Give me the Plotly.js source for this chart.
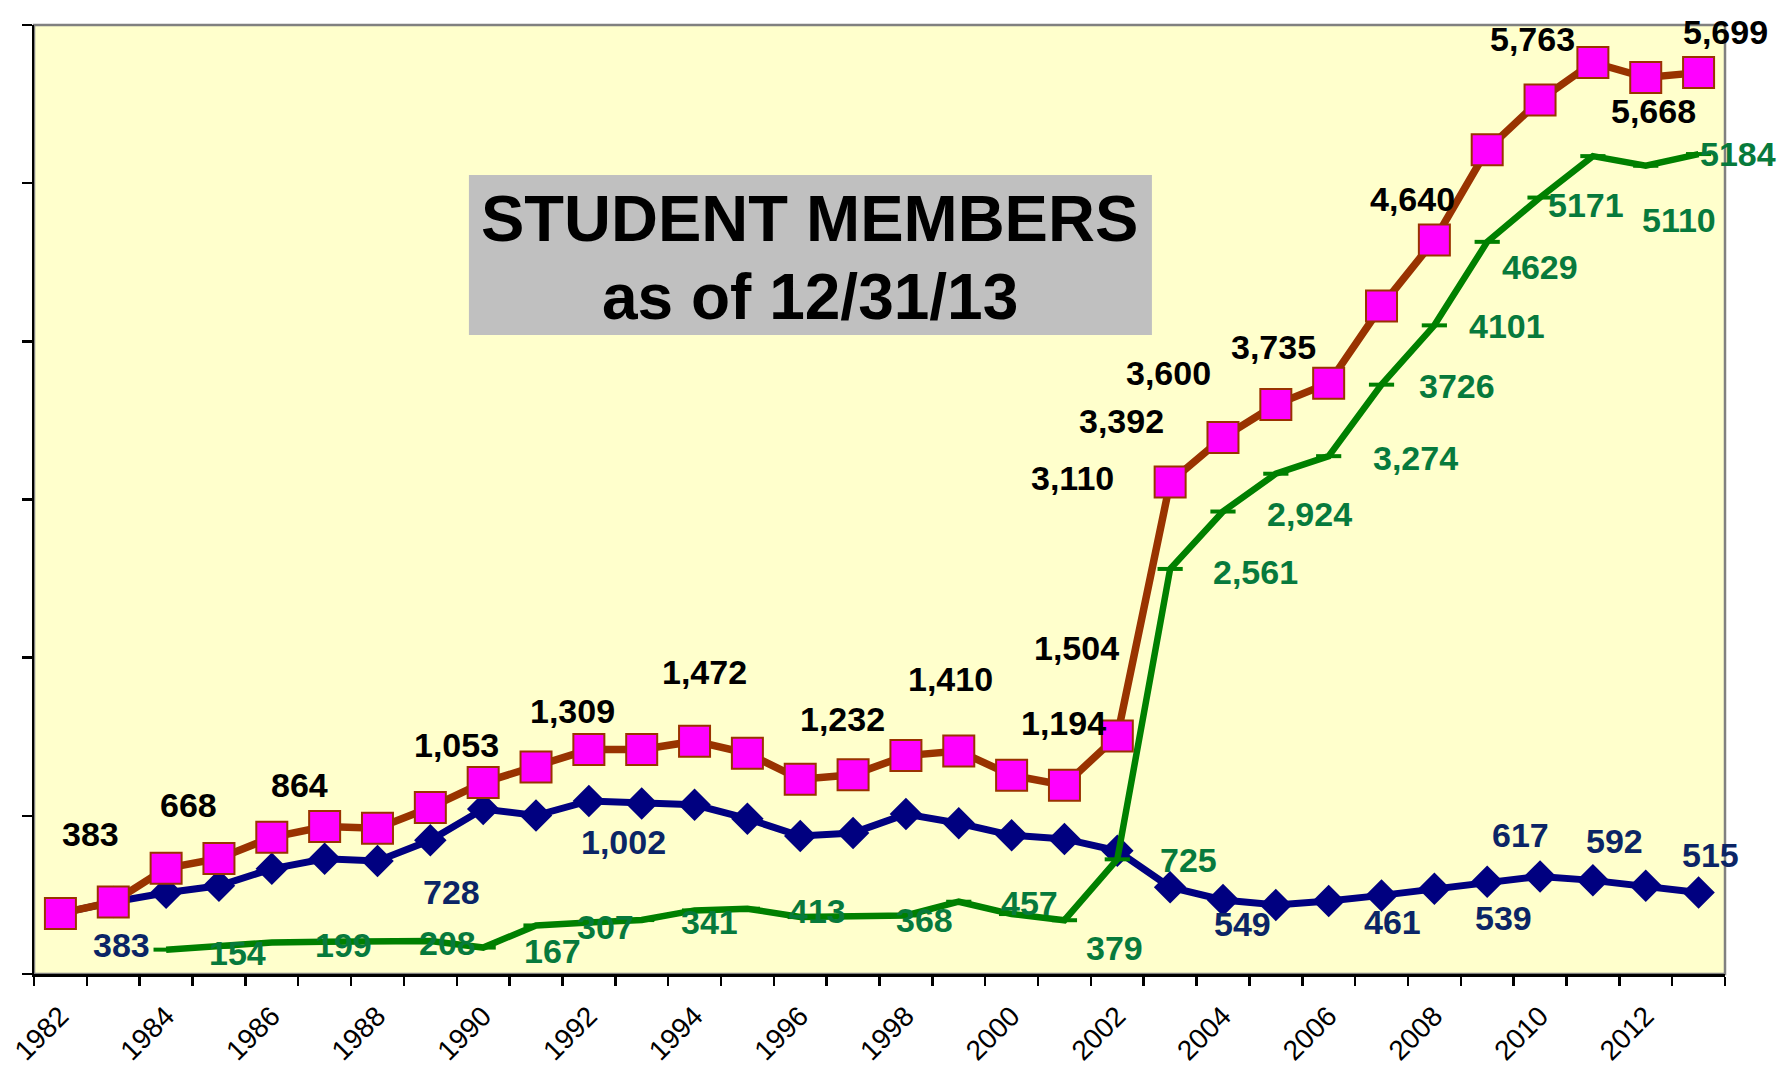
<!DOCTYPE html>
<html><head><meta charset="utf-8">
<script src="https://cdn.plot.ly/plotly-3.0.1.min.js"></script>
<style>html,body{margin:0;padding:0;background:#fff;}#chart{width:1777px;height:1066px;}</style>
</head><body><div id="chart"></div>
<script>
// ---- data ----
const years = [1982,1983,1984,1985,1986,1987,1988,1989,1990,1991,1992,1993,1994,1995,1996,1997,1998,1999,2000,2001,2002,2003,2004,2005,2006,2007,2008,2009,2010,2011,2012,2013];
const totalMembers = [383,455,668,731,864,932,921,1053,1210,1309,1419,1419,1472,1395,1232,1260,1381,1410,1256,1194,1504,3110,3392,3600,3735,4223,4640,5212,5526,5763,5668,5699];
const blueMembers  = [383,455,514,558,665,728,714,845,1043,1002,1094,1078,1070,982,872,892,1011,953,877,854,779,549,468,437,461,497,539,583,617,592,558,515];
const greenMembers = [null,null,154,173,199,204,207,208,167,307,325,341,402,413,360,368,370,457,379,340,725,2561,2924,3163,3274,3726,4101,4629,4909,5171,5110,5184];
const tickYears  = [1982,1984,1986,1988,1990,1992,1994,1996,1998,2000,2002,2004,2006,2008,2010,2012];
const tickLabels = ['1982','1984','1986','1988','1990','1992','1994','1996','1998','2000','2002','2004','2006','2008','2010','2012'];
const yTicks = [0,1000,2000,3000,4000,5000,6000];

const totalLabelYears = [1982,1984,1986,1989,1991,1994,1996,1999,2002,2001,2003,2004,2005,2006,2008,2011,2012,2013];
const totalLabelTexts = ['383','668','864','1,053','1,309','1,472','1,232','1,410','1,504','1,194','3,110','3,392','3,600','3,735','4,640','5,763','5,668','5,699'];
const blueLabelYears = [1982,1987,1991,2003,2006,2008,2010,2011,2013];
const blueLabelTexts = ['383','728','1,002','549','461','539','617','592','515'];
const greenLabelYears = [1984,1986,1989,1990,1991,1993,1995,1997,1999,2000,2002,2003,2004,2006,2007,2008,2009,2011,2012,2013];
const greenLabelTexts = ['154','199','208','167','307','341','413','368','457','379','725','2,561','2,924','3,274','3726','4101','4629','5171','5110','5184'];
const titleLines = ['STUDENT MEMBERS','as of 12/31/13'];

// ---- label placement offsets (pixels: right, down) ----
const totalLabelOffsets = [[30,-79],[22.5,-63],[27.5,-52],[26,-62],[36,-56],[9.5,-69],[42,-60],[-8,-71.5],[-41,-88.6],[-1,-62.6],[-98,-4.6],[-101.5,-17],[-107.5,-32],[-55.5,-36.7],[-21.5,-41],[-60.5,-23],[8,33],[26.5,-41]];
const blueLabelOffsets = [[61,32],[126.5,33.6],[87,26],[72.5,37],[64,21],[69,29],[-20,-41],[22,-39],[12,-37.5]];
const greenLabelOffsets = [[71.5,3],[71.5,2],[17.5,1.4],[69,3],[69.5,2],[68,2.4],[70,2],[71,4],[70.5,1],[103,33.5],[71.5,1],[85,2.6],[86.5,2],[87,2],[75,1],[72.5,1],[53,25],[-7,49],[33,54],[39,0]];

const FONT = 'Liberation Sans, Arial, sans-serif';
const C_TOTAL_LINE = '#993300', C_TOTAL_MK = '#FF00FF';
const C_BLUE = '#000080', C_BLUE_TXT = '#0B2566';
const C_GREEN = '#008000', C_GREEN_TXT = '#077A3C';

const traces = [
  {x: years, y: blueMembers, type: 'scatter', mode: 'lines+markers', name: 'Blue',
   line: {color: C_BLUE, width: 7}, marker: {symbol: 'diamond', size: 25, color: C_BLUE}, cliponaxis: false},
  {x: years, y: greenMembers, type: 'scatter', mode: 'lines+markers', name: 'Green',
   line: {color: C_GREEN, width: 6.5}, marker: {symbol: 'line-ew', size: 18, color: C_GREEN, line: {color: C_GREEN, width: 4}}, cliponaxis: false},
  {x: years, y: totalMembers, type: 'scatter', mode: 'lines+markers', name: 'Total',
   line: {color: C_TOTAL_LINE, width: 7.5}, marker: {symbol: 'square', size: 31, color: C_TOTAL_MK, line: {color: C_TOTAL_LINE, width: 2}}, cliponaxis: false}
];

function makeLabels(labelYears, texts, offsets, series, color) {
  return labelYears.map((yr, k) => {
    const idx = years.indexOf(yr);
    return {x: yr, y: series[idx], xref: 'x', yref: 'y', text: '<b>' + texts[k] + '</b>', showarrow: false,
      xshift: offsets[k][0], yshift: -offsets[k][1], xanchor: 'center', yanchor: 'middle',
      font: {family: FONT, size: 34, color: color}};
  });
}

const annotations = [].concat(
  makeLabels(totalLabelYears, totalLabelTexts, totalLabelOffsets, totalMembers, '#000000'),
  makeLabels(blueLabelYears, blueLabelTexts, blueLabelOffsets, blueMembers, C_BLUE_TXT),
  makeLabels(greenLabelYears, greenLabelTexts, greenLabelOffsets, greenMembers, C_GREEN_TXT),
  [
    {xref: 'paper', yref: 'paper', x: 0.4589, y: 0.7966, text: '<b>' + titleLines[0] + '</b>', showarrow: false,
     xanchor: 'center', yanchor: 'middle', font: {family: FONT, size: 65, color: '#000000'}},
    {xref: 'paper', yref: 'paper', x: 0.4589, y: 0.7129, text: '<b>' + titleLines[1] + '</b>', showarrow: false,
     xanchor: 'center', yanchor: 'middle', font: {family: FONT, size: 64, color: '#000000'}}
  ]
);

const layout = {
  width: 1777, height: 1066, autosize: false,
  margin: {l: 34, r: 52, t: 25, b: 92, pad: 0},
  paper_bgcolor: '#FFFFFF', plot_bgcolor: '#FFFFCC',
  showlegend: false,
  font: {family: FONT, color: '#000000'},
  xaxis: {
    range: [1981.5, 2013.5], tickmode: 'array', tickvals: tickYears, ticktext: tickLabels,
    tickangle: -45, ticks: 'outside', ticklen: 9, tickcolor: 'rgba(0,0,0,0)', tickwidth: 2,
    ticklabelstandoff: 3,
    tickfont: {family: FONT, size: 28, color: '#000000'},
    minor: {tickmode: 'linear', tick0: 1981.5, dtick: 1, ticks: 'outside', ticklen: 9, tickwidth: 2.5, tickcolor: '#000000', showgrid: false},
    showline: true, linecolor: '#000000', linewidth: 2.5, showgrid: false, zeroline: false, fixedrange: true
  },
  yaxis: {
    range: [0, 6000], tickmode: 'array', tickvals: yTicks, showticklabels: false,
    ticks: 'outside', ticklen: 10, tickwidth: 2.5, tickcolor: '#000000',
    showline: true, linecolor: '#000000', linewidth: 2.5, showgrid: false, zeroline: false, fixedrange: true
  },
  shapes: [
    {type: 'rect', xref: 'paper', yref: 'paper', x0: 0, x1: 1, y0: 0, y1: 1, line: {color: '#808080', width: 2.5}, layer: 'below'},
    {type: 'rect', xref: 'paper', yref: 'paper', x0: 0.2572, x1: 0.6611, y0: 0.6733, y1: 0.8419, fillcolor: '#C0C0C0', line: {width: 0}, layer: 'below'}
  ],
  annotations: annotations
};

Plotly.newPlot('chart', traces, layout, {displayModeBar: false, staticPlot: true});
</script>
</body></html>
